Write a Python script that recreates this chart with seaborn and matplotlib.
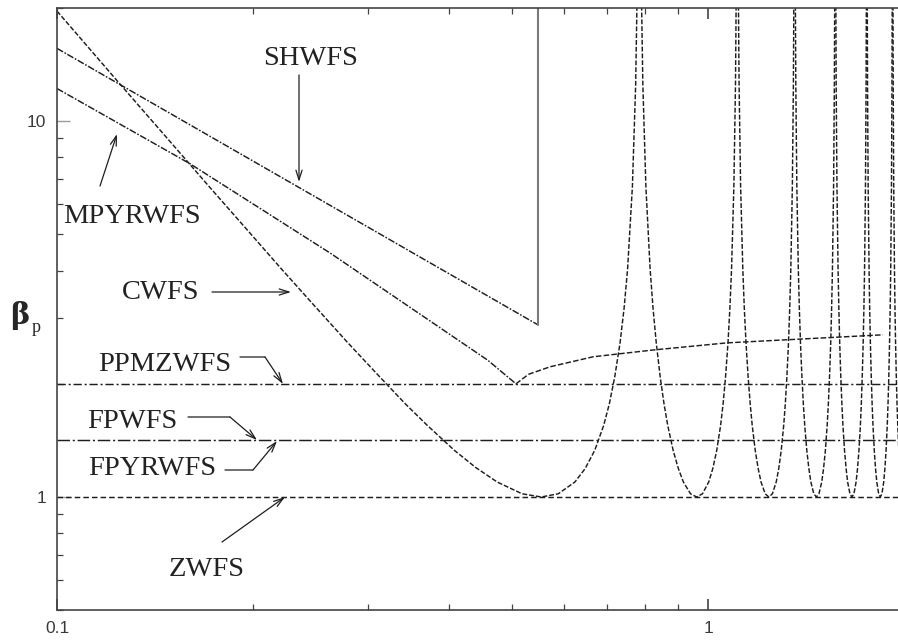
"""Wavefront-sensor sensitivity (beta_p) versus spatial frequency, log-log."""

import matplotlib

matplotlib.use("Agg")
import matplotlib.pyplot as plt
import seaborn as sns

# ---- data --------------------------------------------------------------
shwfs_x = [0.1, 0.548]
shwfs_y = [15.6, 2.87]
shwfs_jump_x = [0.548, 0.548]
shwfs_jump_y = [2.87, 25.0]

mpyr_x = [0.1, 0.16, 0.263, 0.459, 0.507]
mpyr_y = [12.2, 7.7, 4.45, 2.31, 2.0]
mpyr_tail_x = [0.507, 0.53, 0.572, 0.666, 0.823, 1.069, 1.384, 1.857]
mpyr_tail_y = [2.0, 2.12, 2.22, 2.36, 2.46, 2.57, 2.63, 2.70]

cwfs_x = [0.1, 0.1251, 0.15, 0.1713, 0.2, 0.2212, 0.25, 0.2798, 0.3129, 0.3427,
          0.37, 0.4079, 0.44, 0.4745, 0.518, 0.5545, 0.5888, 0.6244, 0.6475,
          0.6698, 0.6914, 0.7054, 0.7191, 0.7326, 0.7432, 0.7524, 0.7653,
          0.7742, 0.7792]
cwfs_y = [19.6, 12.51, 8.72, 6.69, 4.93, 4.04, 3.19, 2.57, 2.09, 1.77,
          1.554, 1.33, 1.197, 1.096, 1.020, 1.0, 1.020, 1.096, 1.19,
          1.33, 1.55, 1.77, 2.09, 2.57, 3.18, 4.04, 6.69,
          12.51, 25.0]

# beta profile shared by every lobe of the CWFS curve past the first minimum
lobe_beta = [25.0, 12.51, 6.69, 4.04, 3.18, 2.57, 2.09, 1.77, 1.55, 1.33,
             1.19, 1.096, 1.020, 1.0, 1.020, 1.096, 1.19, 1.33, 1.55, 1.77,
             2.09, 2.57, 3.18, 4.04, 6.69, 12.51, 25.0]
cwfs_lobes_x = [
    [0.7892, 0.7941, 0.8027, 0.8148, 0.8232, 0.8327, 0.8443, 0.8558, 0.8672,
     0.8840, 0.9004, 0.9166, 0.9399, 0.9605, 0.9806, 1.0024, 1.0170, 1.0313,
     1.0455, 1.0548, 1.0640, 1.0732, 1.0804, 1.0868, 1.0957, 1.1020, 1.1055],
    [1.1126, 1.1161, 1.1222, 1.1309, 1.1369, 1.1438, 1.1523, 1.1608, 1.1692,
     1.1817, 1.1941, 1.2063, 1.2241, 1.2400, 1.2556, 1.2727, 1.2842, 1.2956,
     1.3069, 1.3144, 1.3218, 1.3292, 1.3351, 1.3402, 1.3475, 1.3525, 1.3554],
    [1.3612, 1.3641, 1.3691, 1.3762, 1.3812, 1.3868, 1.3939, 1.4009, 1.4078,
     1.4182, 1.4286, 1.4388, 1.4537, 1.4671, 1.4804, 1.4950, 1.5047, 1.5145,
     1.5241, 1.5305, 1.5369, 1.5433, 1.5483, 1.5528, 1.5591, 1.5634, 1.5659],
    [1.5709, 1.5734, 1.5778, 1.5840, 1.5883, 1.5932, 1.5993, 1.6055, 1.6115,
     1.6206, 1.6297, 1.6386, 1.6518, 1.6636, 1.6753, 1.6882, 1.6968, 1.7055,
     1.7141, 1.7198, 1.7254, 1.7311, 1.7356, 1.7396, 1.7452, 1.7491, 1.7513],
    [1.7558, 1.7580, 1.7619, 1.7675, 1.7713, 1.7758, 1.7813, 1.7867, 1.7922,
     1.8004, 1.8085, 1.8166, 1.8285, 1.8392, 1.8498, 1.8614, 1.8693, 1.8771,
     1.8849, 1.8901, 1.8953, 1.9004, 1.9046, 1.9082, 1.9133, 1.9168, 1.9189],
    [1.9230, 1.9250, 1.9286, 1.9336, 1.9372, 1.9412, 1.9463, 1.9513, 1.9563,
     1.9638, 1.9712, 1.9787, 1.9896, 2.0006],
]

ppmz_level = 2.0
fp_level = 1.414
z_level = 1.0
x_span = [0.1, 1.958]

xtick_vals = [0.1, 1]
xtick_labels = ["0.1", "1"]
ytick_vals = [1, 10]
ytick_labels = ["1", "10"]

# ---- style ----------------------------------------------------------------
sns.set_style("ticks")
plt.rcParams["font.family"] = ["Liberation Sans", "DejaVu Sans"]
plt.rcParams["lines.scale_dashes"] = False

INK = "#1e1e1e"
W, H = 898, 640

fig = plt.figure(figsize=(W / 100, H / 100), dpi=100)
ax = fig.add_axes([57 / W, 29.8 / H, (W - 57) / W, 602.4 / H])
ax.set_xscale("log")
ax.set_yscale("log")


def line(x, y, ls, color=INK, lw=1.05):
    sns.lineplot(x=x, y=y, ax=ax, color=color, lw=lw, linestyle=ls,
                 estimator=None, sort=False)


dashdot_fine = (0, (5, 1.2, 1.2, 1.2))
line(shwfs_x, shwfs_y, dashdot_fine)
line(shwfs_jump_x, shwfs_jump_y, "-", color="#7a7a7a", lw=1.5)
line(mpyr_x, mpyr_y, dashdot_fine)
line(mpyr_tail_x, mpyr_tail_y, (0, (4, 1.6)))

cw_dash = (0, (3.5, 1.4))
line(cwfs_x, cwfs_y, cw_dash)
for lx in cwfs_lobes_x:
    line(lx, lobe_beta[:len(lx)], cw_dash)

line(x_span, [ppmz_level] * 2, (0, (6, 2, 1.5, 2)))
line(x_span, [fp_level] * 2, (0, (9, 2, 1.5, 2)))
line(x_span, [z_level] * 2, (0, (4, 2.2)))

ax.set_xlim(x_span)
ax.set_ylim(0.5, 20)

ax.set_xticks(xtick_vals, labels=xtick_labels)
ax.set_yticks(ytick_vals, labels=ytick_labels)
ax.xaxis.set_minor_formatter(matplotlib.ticker.NullFormatter())
ax.yaxis.set_minor_formatter(matplotlib.ticker.NullFormatter())
ax.tick_params(which="both", direction="in", top=True, right=False,
               color="#444444", labelcolor="#3a3a3a", labelsize=12.5)
ax.tick_params(axis="x", which="major", length=8, width=1.2, pad=8)
ax.tick_params(axis="y", which="major", length=9, width=1.0, pad=8,
               color="#9a9a9a")
ax.tick_params(which="minor", length=4, width=0.9)
for side in ("left", "top", "bottom"):
    ax.spines[side].set_color("#444444")
    ax.spines[side].set_linewidth(1.2)
ax.spines["right"].set_visible(False)
ax.set_xlabel("")
ax.set_ylabel("")

# y label: bold beta with a subscript p
fig.text(20 / W, 1 - 316 / H, "β", fontsize=21, fontweight="bold",
         ha="center", va="center", family=["DejaVu Serif", "DejaVu Sans"])
fig.text(36 / W, 1 - 327 / H, "p", fontsize=13, ha="center", va="center",
         family="Liberation Serif")


def fp(x, y):
    return (x / W, 1 - y / H)


labels = [
    ("SHWFS", 311, 65),
    ("MPYRWFS", 132, 223),
    ("CWFS", 161, 299),
    ("PPMZWFS", 165, 371),
    ("FPWFS", 132, 428),
    ("FPYRWFS", 152, 475),
    ("ZWFS", 207, 576),
]
for text, cx, base in labels:
    fig.text(*fp(cx, base), text, fontsize=20.5, family="Liberation Serif",
             ha="center", va="baseline", color="#222222")

head = dict(arrowstyle="->,head_length=0.7,head_width=0.22", color=INK, lw=0.9,
            shrinkA=0, shrinkB=0)
plain = dict(arrowstyle="-", color=INK, lw=0.9, shrinkA=0, shrinkB=0)
arrows = [
    ((299, 75), (299, 182), None),
    ((100, 186), (117, 134), None),
    ((212, 292), (291, 292), None),
    ((265, 357), (283, 384), (240, 357)),
    ((230, 417), (257, 440), (188, 417)),
    ((253, 470), (277, 441), (225, 470)),
    ((222, 542), (285, 497), None),
]
for tail, tip, lead in arrows:
    if lead is not None:
        ax.annotate("", xy=fp(*tail), xytext=fp(*lead),
                    xycoords="figure fraction", textcoords="figure fraction",
                    arrowprops=plain)
    ax.annotate("", xy=fp(*tip), xytext=fp(*tail),
                xycoords="figure fraction", textcoords="figure fraction",
                arrowprops=head)

fig.savefig("out.png", dpi=100)
plt.close(fig)
